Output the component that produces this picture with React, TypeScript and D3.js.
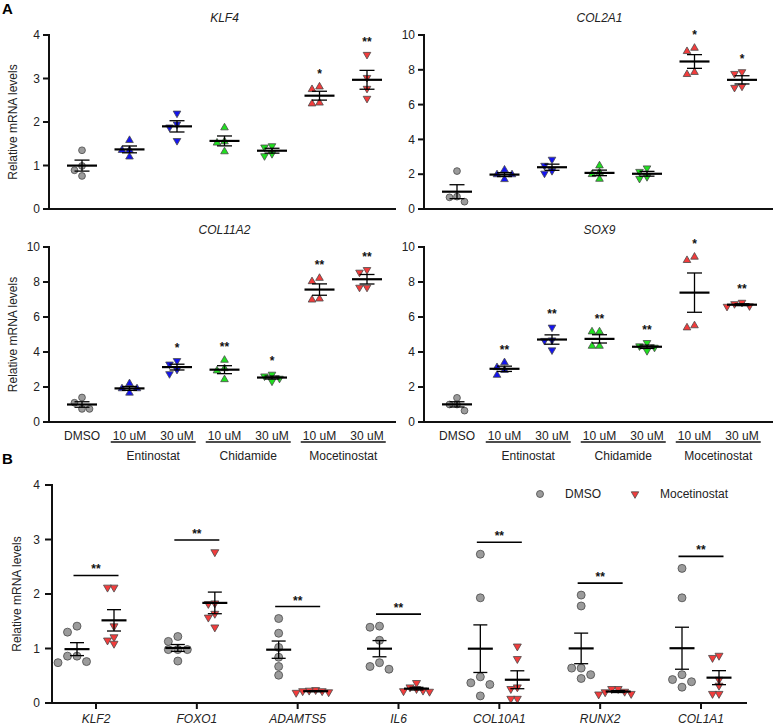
import React from "react";
import * as d3 from "d3";

// ---------- Panel A data ----------
const groupsA = ["DMSO", "Ent10", "Ent30", "Chid10", "Chid30", "Moc10", "Moc30"];
const doseLabels = ["DMSO", "10 uM", "30 uM", "10 uM", "30 uM", "10 uM", "30 uM"];
const drugLabels = ["Entinostat", "Chidamide", "Mocetinostat"];
const shapesA = ["circle", "up", "down", "up", "down", "up", "down"];
const colorsA = ["#9b9b9b", "#1414f0", "#1414f0", "#1fe01f", "#1fe01f", "#f23c3c", "#f23c3c"];

const klf4 = [
  [1.35, 0.99, 0.89, 0.76],
  [1.58, 1.35, 1.35, 1.2],
  [2.2, 1.95, 1.88, 1.57],
  [1.87, 1.52, 1.55, 1.32],
  [1.42, 1.45, 1.22, 1.27],
  [2.75, 2.81, 2.42, 2.44],
  [3.55, 3.02, 2.77, 2.54],
];
const col2a1 = [
  [2.18, 0.42, 0.71, 0.67],
  [2.25, 1.7, 1.98, 1.98],
  [2.85, 2.5, 2.2, 2.05],
  [1.72, 2.1, 2.49, 1.99],
  [2.15, 2.35, 1.75, 1.85],
  [9.06, 9.25, 7.74, 7.86],
  [7.78, 7.88, 6.98, 7.05],
];
const col11a2 = [
  [1.1, 1.4, 0.75, 0.75],
  [2.2, 1.66, 1.91, 1.91],
  [3.5, 3.3, 3.0, 2.75],
  [3.54, 3.06, 2.93, 2.43],
  [2.72, 2.33, 2.62, 2.49],
  [8.03, 8.22, 6.98, 7.04],
  [8.55, 8.7, 7.69, 7.69],
];
const sox9 = [
  [1.38, 0.65, 1.0, 1.0],
  [3.12, 2.68, 3.4, 2.96],
  [5.41, 4.68, 4.65, 4.11],
  [5.16, 5.16, 4.34, 4.34],
  [4.53, 4.07, 4.34, 4.26],
  [9.24, 9.43, 5.39, 5.51],
  [6.6, 6.83, 6.63, 6.75],
];
const sigKlf4 = ["", "", "", "", "", "*", "**"];
const sigCol2a1 = ["", "", "", "", "", "*", "*"];
const sigCol11a2 = ["", "", "*", "**", "*", "**", "**"];
const sigSox9 = ["", "**", "**", "**", "**", "*", "**"];
const ticksA4 = [0, 1, 2, 3, 4];
const ticksA10 = [0, 2, 4, 6, 8, 10];

// ---------- Panel B data ----------
const genesB = ["KLF2", "FOXO1", "ADAMTS5", "IL6", "COL10A1", "RUNX2", "COL1A1"];
const seriesB = ["DMSO", "Mocetinostat"];
const dmsoB = [
  [1.41, 1.3, 0.86, 0.86, 0.76, 0.74],
  [1.13, 1.22, 0.98, 0.98, 0.98, 0.77],
  [1.55, 1.28, 1.02, 0.84, 0.67, 0.51],
  [1.39, 1.41, 1.15, 0.62, 0.74, 0.67],
  [2.73, 1.93, 0.37, 0.48, 0.34, 0.13],
  [1.98, 1.78, 0.64, 0.45, 0.64, 0.52],
  [2.47, 1.93, 0.43, 0.29, 0.52, 0.39],
];
const mocB = [
  [2.12, 2.12, 1.41, 1.21, 1.09, 1.15],
  [2.77, 1.83, 1.82, 1.64, 1.39, 1.57],
  [0.24, 0.22, 0.23, 0.2, 0.19, 0.22],
  [0.37, 0.22, 0.29, 0.23, 0.26, 0.21],
  [1.04, 0.81, 0.26, 0.08, 0.29, 0.08],
  [0.17, 0.26, 0.2, 0.26, 0.16, 0.21],
  [0.83, 0.87, 0.32, 0.17, 0.43, 0.17],
];
const sigB = ["**", "**", "**", "**", "**", "**", "**"];
const ticksB = [0, 1, 2, 3, 4];

const FONT = "'Liberation Sans', Arial, Helvetica, sans-serif";
const TXT = "#222";
const AX = "#111";

function dodge(values: number[], y: (v: number) => number, diam: number, step: number): number[] {
  const idx = values.map((_, i) => i).sort((a, b) => values[b] - values[a]);
  const placed: { x: number; y: number }[] = [];
  const offs = new Array(values.length).fill(0);
  for (const i of idx) {
    const py = y(values[i]);
    for (let k = 0; k < 30; k++) {
      const slot = k === 0 ? 0 : k % 2 === 1 ? -Math.ceil(k / 2) : Math.ceil(k / 2);
      const px = slot * step;
      if (placed.every((p) => Math.hypot(p.x - px, p.y - py) >= diam * 0.9)) {
        offs[i] = px;
        placed.push({ x: px, y: py });
        break;
      }
    }
  }
  return offs;
}

function Marker({ shape, x, y, fill, r, t }: any) {
  if (shape === "circle") {
    return <circle cx={x} cy={y} r={r} fill={fill} stroke="#4a4a4a" strokeWidth={0.8} />;
  }
  const w = t;
  const h = t * 0.87;
  const d =
    shape === "up"
      ? `M${x},${y - (2 * h) / 3}L${x + w / 2},${y + h / 3}L${x - w / 2},${y + h / 3}Z`
      : `M${x},${y + (2 * h) / 3}L${x + w / 2},${y - h / 3}L${x - w / 2},${y - h / 3}Z`;
  return <path d={d} fill={fill} stroke="#4a4a4a" strokeWidth={0.8} strokeLinejoin="round" />;
}

function MeanSem({ vals, x, y, half, cap }: any) {
  const m = d3.mean(vals) as number;
  const sem = (d3.deviation(vals) as number) / Math.sqrt(vals.length);
  return (
    <g stroke="#000">
      <line x1={x} x2={x} y1={y(m - sem)} y2={y(m + sem)} strokeWidth={1.3} />
      <line x1={x - cap} x2={x + cap} y1={y(m + sem)} y2={y(m + sem)} strokeWidth={1.3} />
      <line x1={x - cap} x2={x + cap} y1={y(m - sem)} y2={y(m - sem)} strokeWidth={1.3} />
      <line x1={x - half} x2={x + half} y1={y(m)} y2={y(m)} strokeWidth={2.2} />
    </g>
  );
}

function PanelA({ title, data, sig, ticks, axisX, top, bottom, axisEnd, titleY, yLabel, xLabels }: any) {
  const ymax = ticks[ticks.length - 1];
  const y = d3.scaleLinear().domain([0, ymax]).range([bottom, top]);
  const x = d3.scalePoint().domain(groupsA).range([axisX + 33, axisX + 33 + 6 * 47.5]);
  return (
    <g>
      <text x={x("Chid10")} y={titleY} textAnchor="middle" fontStyle="italic" fontSize={12} fill={TXT}>
        {title}
      </text>
      {groupsA.map((g, gi) => {
        const vals = data[gi];
        const offs = dodge(vals, y, 7, 7.5);
        return (
          <g key={g}>
            {vals.map((v: number, i: number) => (
              <Marker key={i} shape={shapesA[gi]} x={(x(g) as number) + offs[i]} y={y(v)} fill={colorsA[gi]} r={3.4} t={7.6} />
            ))}
          </g>
        );
      })}
      {groupsA.map((g, gi) => (
        <MeanSem key={g} vals={data[gi]} x={x(g)} y={y} half={15} cap={7.5} />
      ))}
      {groupsA.map((g, gi) =>
        sig[gi] ? (
          <text key={g} x={x(g)} y={y(d3.max(data[gi]) as number) - 16 + 7} textAnchor="middle" fontSize={12} fontWeight="bold" fill="#111">
            {sig[gi]}
          </text>
        ) : null
      )}
      {/* axes */}
      <line x1={axisX} x2={axisX} y1={top - 1} y2={bottom + 1} stroke={AX} strokeWidth={2} />
      <line x1={axisX - 1} x2={axisEnd} y1={bottom} y2={bottom} stroke={AX} strokeWidth={2} />
      {ticks.map((t: number) => (
        <g key={t}>
          <line x1={axisX - 6} x2={axisX} y1={y(t)} y2={y(t)} stroke={AX} strokeWidth={2} />
          <text x={axisX - 9} y={y(t) + 4.2} textAnchor="end" fontSize={12} fill={TXT}>
            {t}
          </text>
        </g>
      ))}
      {yLabel ? (
        <text transform={`translate(${axisX - 32},${(top + bottom) / 2}) rotate(-90)`} textAnchor="middle" fontSize={12} fill={TXT}>
          Relative mRNA levels
        </text>
      ) : null}
      {xLabels ? (
        <g>
          {groupsA.map((g, gi) => (
            <text key={g} x={x(g)} y={bottom + 18} textAnchor="middle" fontSize={12} fill={TXT}>
              {doseLabels[gi]}
            </text>
          ))}
          {drugLabels.map((dl, di) => {
            const cx = ((x(groupsA[1 + di * 2]) as number) + (x(groupsA[2 + di * 2]) as number)) / 2;
            return (
              <g key={dl}>
                <line x1={cx - 42.5} x2={cx + 42.5} y1={bottom + 20} y2={bottom + 20} stroke="#111" strokeWidth={1.5} />
                <text x={cx} y={bottom + 38} textAnchor="middle" fontSize={12} fill={TXT}>
                  {dl}
                </text>
              </g>
            );
          })}
        </g>
      ) : null}
    </g>
  );
}

function PanelB() {
  const axisX = 52;
  const top = 485;
  const bottom = 703;
  const y = d3.scaleLinear().domain([0, 4]).range([bottom, top]);
  const x = d3.scalePoint().domain(genesB).range([96, 701]);
  const sub = d3.scalePoint().domain(seriesB).range([-19, 18]);
  return (
    <g>
      {genesB.map((g, gi) => {
        const cx = x(g) as number;
        const groups = [dmsoB[gi], mocB[gi]];
        return (
          <g key={g}>
            {groups.map((vals, si) => {
              const offs = si === 0 ? dodge(vals, y, 8.5, 9.5) : dodge(vals, y, 6.5, 6.5);
              const sx = cx + (sub(seriesB[si]) as number);
              return vals.map((v, i) => (
                <Marker key={si + "-" + i} shape={si === 0 ? "circle" : "down"} x={sx + offs[i]} y={y(v)} fill={si === 0 ? "#9b9b9b" : "#f23c3c"} r={4} t={8} />
              ));
            })}
            {groups.map((vals, si) => (
              <MeanSem key={"m" + si} vals={vals} x={cx + (sub(seriesB[si]) as number)} y={y} half={12.5} cap={7} />
            ))}
          </g>
        );
      })}
      {genesB.map((g, gi) => {
        const cx = x(g) as number;
        const by = y(d3.max([...dmsoB[gi], ...mocB[gi]]) as number) - 12;
        return (
          <g key={"s" + g}>
            <line x1={cx - 22.5} x2={cx + 22.5} y1={by} y2={by} stroke="#000" strokeWidth={1.6} />
            <text x={cx} y={by - 2} textAnchor="middle" fontSize={12} fontWeight="bold" fill="#111">
              {sigB[gi]}
            </text>
          </g>
        );
      })}
      <line x1={axisX} x2={axisX} y1={top - 1} y2={bottom + 1} stroke={AX} strokeWidth={2} />
      <line x1={axisX - 1} x2={747} y1={bottom} y2={bottom} stroke={AX} strokeWidth={2} />
      {ticksB.map((t) => (
        <g key={t}>
          <line x1={axisX - 7} x2={axisX} y1={y(t)} y2={y(t)} stroke={AX} strokeWidth={2} />
          <text x={axisX - 12} y={y(t) + 4.2} textAnchor="end" fontSize={12} fill={TXT}>
            {t}
          </text>
        </g>
      ))}
      {genesB.map((g) => (
        <g key={"x" + g}>
          <line x1={x(g)} x2={x(g)} y1={bottom} y2={bottom + 6} stroke={AX} strokeWidth={2} />
          <text x={x(g)} y={bottom + 19.5} textAnchor="middle" fontStyle="italic" fontSize={12} fill={TXT}>
            {g}
          </text>
        </g>
      ))}
      <text transform={`translate(${axisX - 31},${(top + bottom) / 2}) rotate(-90)`} textAnchor="middle" fontSize={12} fill={TXT}>
        Relative mRNA levels
      </text>
      {/* legend */}
      <Marker shape="circle" x={540} y={494} fill="#9b9b9b" r={3.5} t={8} />
      <text x={565} y={498.2} fontSize={12} fill={TXT}>
        {seriesB[0]}
      </text>
      <Marker shape="down" x={635} y={494} fill="#f23c3c" r={4} t={7.5} />
      <text x={660} y={498.2} fontSize={12} fill={TXT}>
        {seriesB[1]}
      </text>
    </g>
  );
}

export default function App() {
  return (
    <svg
      width={773}
      height={726}
      viewBox="0 0 773 726"
      style={{ position: "absolute", left: 0, top: 0, display: "block", fontFamily: FONT, background: "#fff" }}
    >
      <rect x={0} y={0} width={773} height={726} fill="#fff" />
      <text x={2} y={14} fontSize={15} fontWeight="bold" fill="#000">A</text>
      <text x={2} y={464} fontSize={15} fontWeight="bold" fill="#000">B</text>
      <PanelA title="KLF4" data={klf4} sig={sigKlf4} ticks={ticksA4} axisX={49} top={35} bottom={209} axisEnd={396} titleY={22} yLabel xLabels={false} />
      <PanelA title="COL2A1" data={col2a1} sig={sigCol2a1} ticks={ticksA10} axisX={424} top={35} bottom={209} axisEnd={773} titleY={22} yLabel={false} xLabels={false} />
      <PanelA title="COL11A2" data={col11a2} sig={sigCol11a2} ticks={ticksA10} axisX={49} top={247} bottom={422} axisEnd={396} titleY={234} yLabel xLabels />
      <PanelA title="SOX9" data={sox9} sig={sigSox9} ticks={ticksA10} axisX={424} top={247} bottom={422} axisEnd={773} titleY={234} yLabel={false} xLabels />
      <PanelB />
    </svg>
  );
}
